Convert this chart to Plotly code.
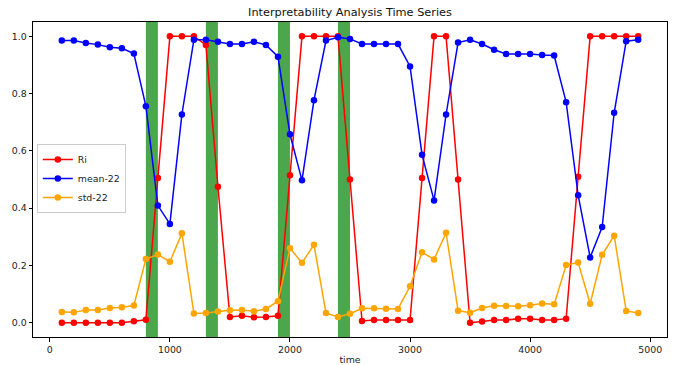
import plotly.graph_objects as go

time = list(range(100, 5000, 100))

ri = [0.0, 0.0, 0.0, 0.0, 0.0, 0.0, 0.005, 0.01, 0.505, 1.0,
      1.0, 1.0, 0.97, 0.475, 0.02, 0.024, 0.019, 0.02, 0.024, 0.515,
      1.0, 1.0, 1.0, 1.0, 0.5, 0.006, 0.009, 0.009, 0.009, 0.009,
      0.505, 1.0, 1.0, 0.5, 0.0, 0.004, 0.009, 0.009, 0.014, 0.014,
      0.009, 0.009, 0.014, 0.51, 1.0, 1.0, 1.0, 1.0, 1.0]

mean22 = [0.985, 0.985, 0.977, 0.971, 0.962, 0.958, 0.94, 0.756, 0.409, 0.345,
          0.727, 0.988, 0.988, 0.981, 0.973, 0.973, 0.981, 0.97, 0.929, 0.658,
          0.497, 0.777, 0.985, 0.997, 0.991, 0.973, 0.973, 0.973, 0.973, 0.895,
          0.586, 0.427, 0.727, 0.978, 0.988, 0.973, 0.953, 0.938, 0.938, 0.938,
          0.935, 0.933, 0.77, 0.445, 0.228, 0.334, 0.733, 0.983, 0.988]

std22 = [0.037, 0.036, 0.044, 0.044, 0.051, 0.054, 0.06, 0.222, 0.238, 0.213,
         0.312, 0.032, 0.034, 0.039, 0.043, 0.044, 0.04, 0.048, 0.075, 0.26,
         0.209, 0.272, 0.034, 0.02, 0.031, 0.05, 0.05, 0.049, 0.048, 0.127,
         0.246, 0.221, 0.314, 0.042, 0.035, 0.051, 0.059, 0.058, 0.057, 0.061,
         0.067, 0.064, 0.201, 0.21, 0.066, 0.237, 0.304, 0.041, 0.034]

span_starts = [800, 1300, 1900, 2400]
span_ends = [900, 1400, 2000, 2500]

series = [("Ri", ri, "#ff0000"), ("mean-22", mean22, "#0000ff"), ("std-22", std22, "#ffa500")]

fig = go.Figure()
for name, vals, col in series:
    fig.add_trace(go.Scatter(x=time, y=vals, name=name, mode="lines+markers",
                             line=dict(color=col, width=1.5),
                             marker=dict(color=col, size=6.5)))

for s, e in zip(span_starts, span_ends):
    fig.add_shape(type="rect", xref="x", yref="paper", x0=s, x1=e, y0=0, y1=1,
                  fillcolor="green", opacity=0.7, line=dict(width=0), layer="below")

font = "DejaVu Sans"
axis_common = dict(showgrid=False, zeroline=False, showline=True, mirror=True,
                   linecolor="black", linewidth=1, ticks="outside", ticklen=3.5,
                   tickwidth=1, tickcolor="black", automargin=False,
                   tickfont=dict(family=font, size=9.4, color="#222"))

fig.update_layout(
    width=694, height=365,
    margin=dict(l=33, r=27, t=22, b=28),
    paper_bgcolor="white", plot_bgcolor="white",
    title=dict(text="Interpretability Analysis Time Series", x=0.5, xref="paper",
               y=1 - 12 / 365, yref="container", yanchor="middle",
               font=dict(family=font, size=11.3, color="#111")),
    xaxis=dict(range=[-140, 5140], tickvals=[0, 1000, 2000, 3000, 4000, 5000],
               title=dict(text="time", font=dict(family=font, size=9.4, color="#222"), standoff=9),
               **axis_common),
    yaxis=dict(range=[-0.05, 1.05], tickvals=[0, 0.2, 0.4, 0.6, 0.8, 1.0],
               tickformat=".1f", **axis_common),
    legend=dict(x=0.006, y=0.503, xanchor="left", yanchor="middle",
                bgcolor="rgba(255,255,255,0.8)", bordercolor="#cccccc", borderwidth=1,
                font=dict(family=font, size=9.4, color="#222"), itemwidth=30),
    showlegend=True,
)

fig.write_html("out.html")
